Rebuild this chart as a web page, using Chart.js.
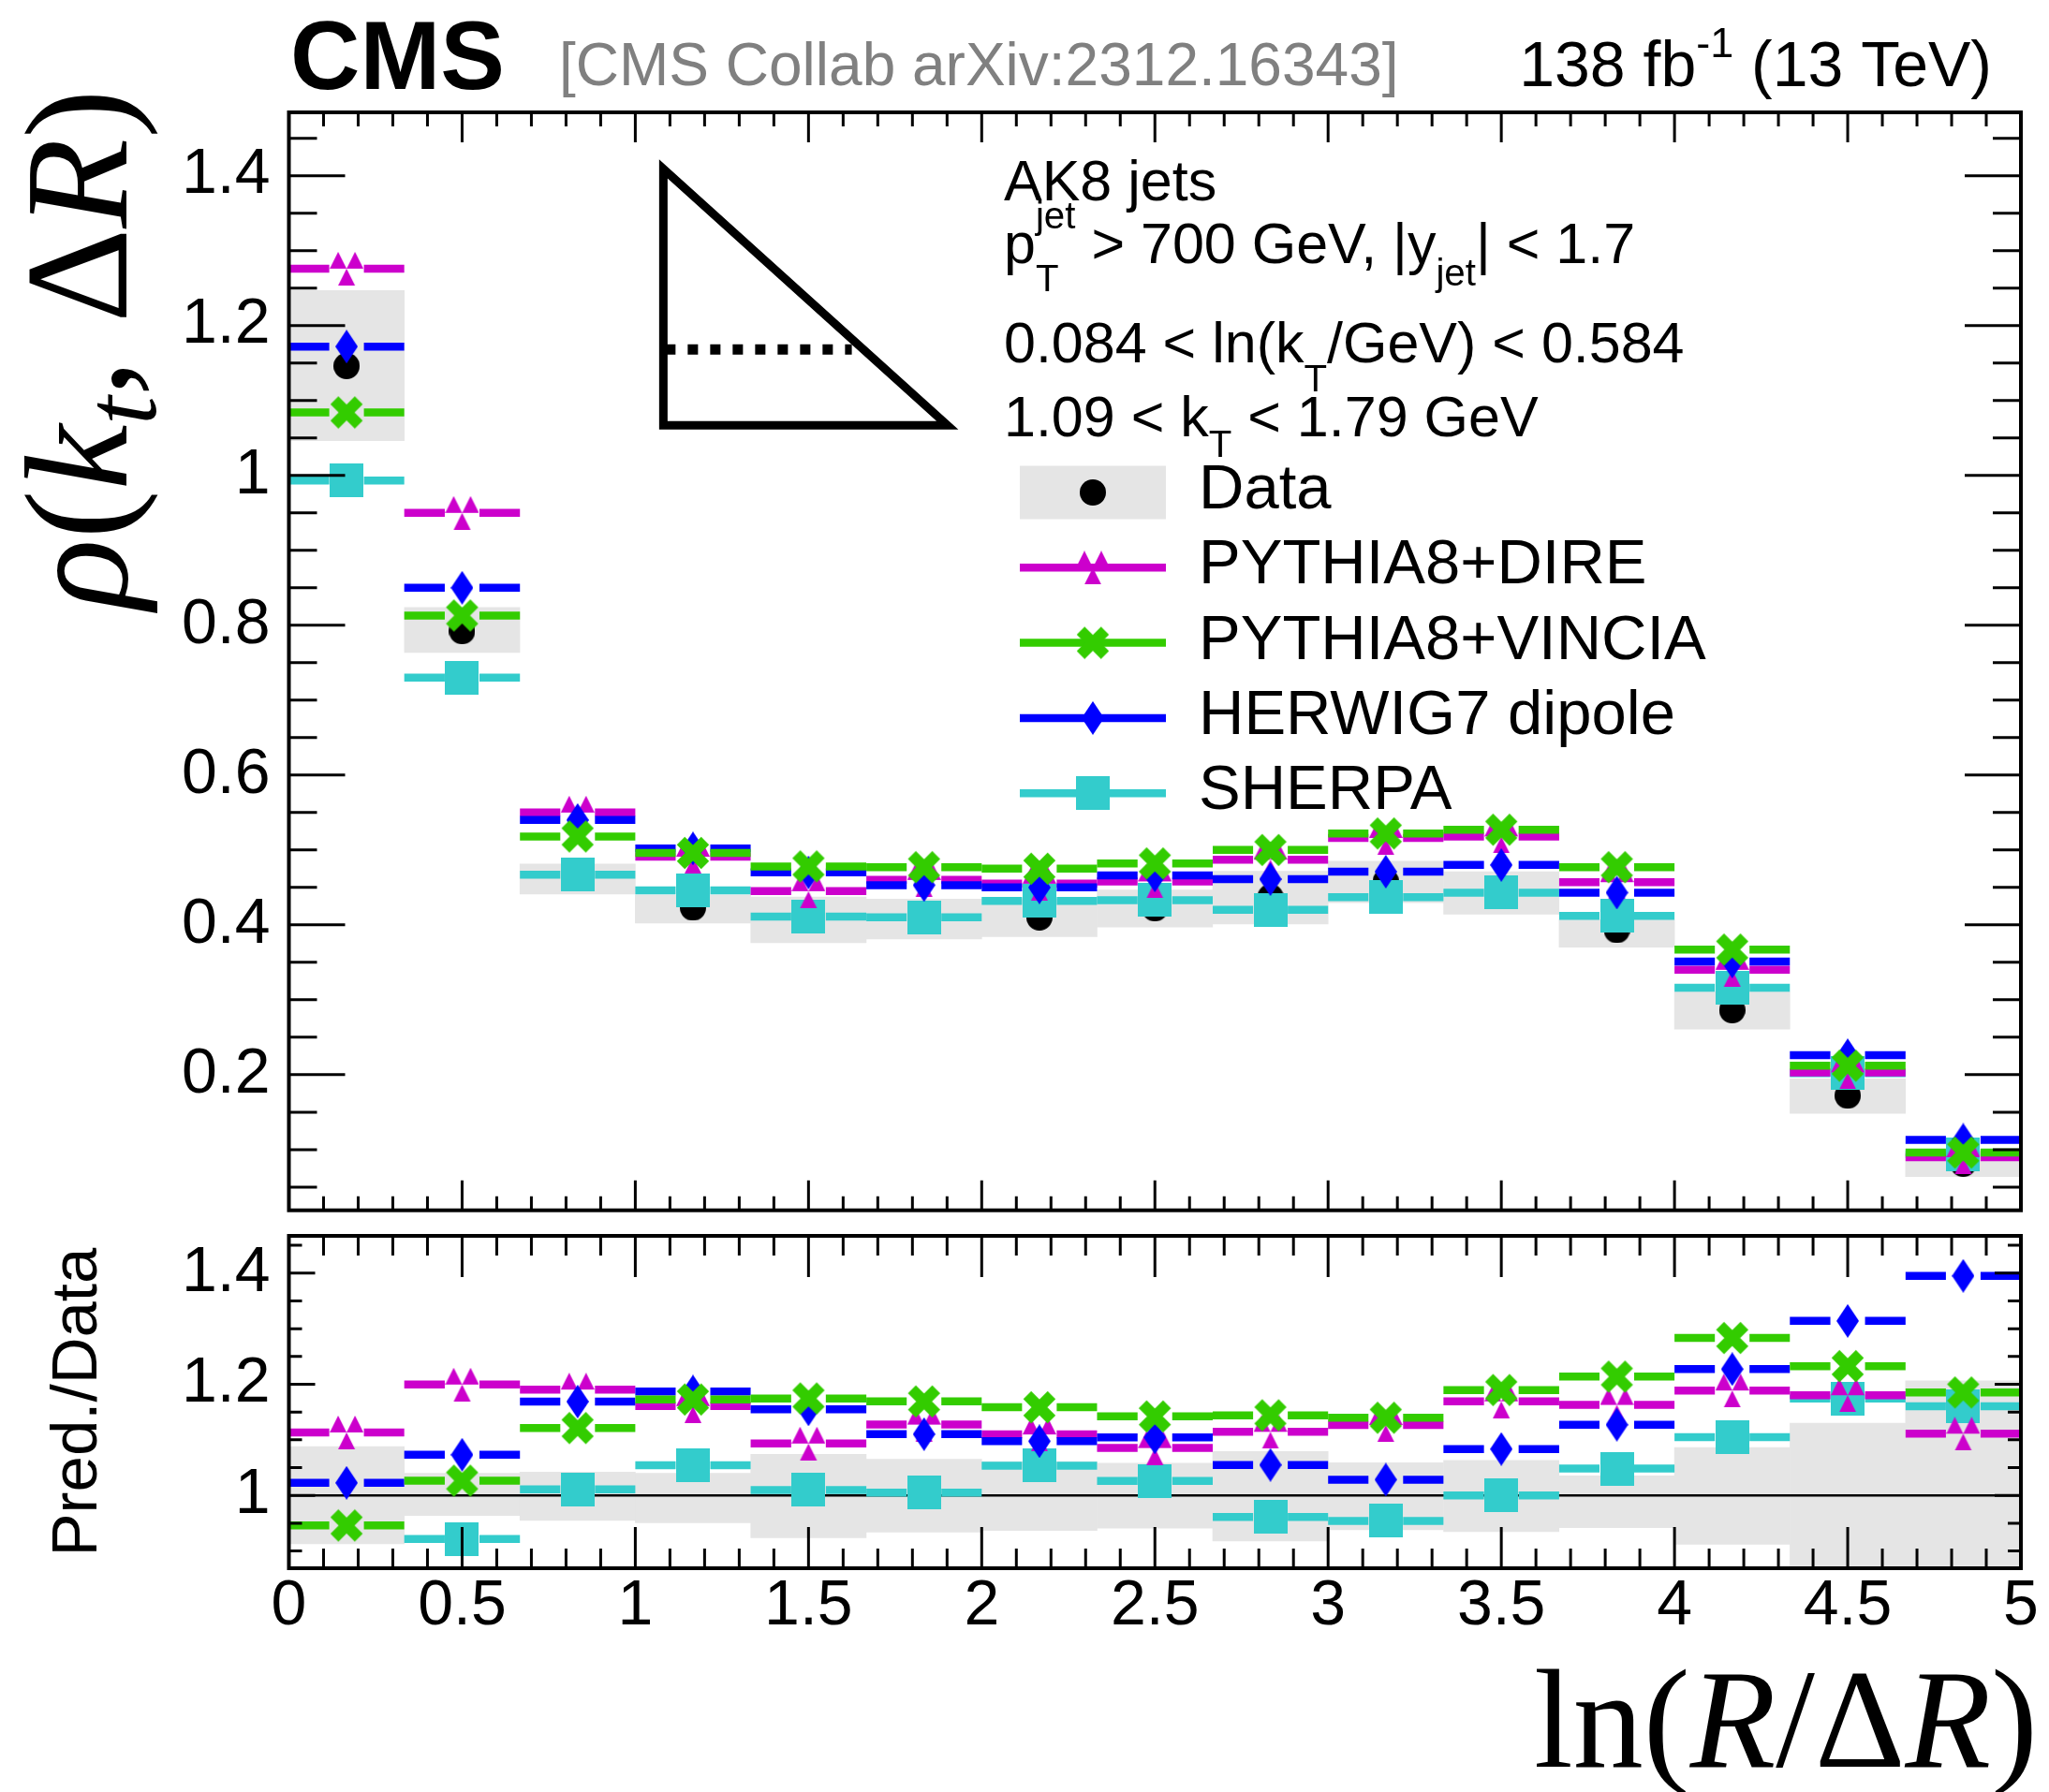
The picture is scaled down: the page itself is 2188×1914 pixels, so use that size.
<!DOCTYPE html>
<html>
<head>
<meta charset="utf-8">
<script src="https://cdn.jsdelivr.net/npm/chart.js@4.4.1/dist/chart.umd.min.js"></script>
<style>
  html, body { margin:0; padding:0; background:#fff; }
  #wrap { position:relative; width:2188px; height:1914px; overflow:hidden; }
  canvas { position:absolute; left:0; }
  #mainCanvas { top:0; }
  #ratioCanvas { top:1306px; }
</style>
</head>
<body>
<div id="wrap">
  <canvas id="mainCanvas" width="2188" height="1306"></canvas>
  <canvas id="ratioCanvas" width="2188" height="608"></canvas>
</div>
<script>
// ---------- DATA ----------
const binLo = [0, 0.333, 0.667, 1, 1.333, 1.667, 2, 2.333, 2.667, 3, 3.333, 3.667, 4, 4.333, 4.667];
const binHi = [0.333, 0.667, 1, 1.333, 1.667, 2, 2.333, 2.667, 3, 3.333, 3.667, 4, 4.333, 4.667, 5];

const dataVals   = [1.146, 0.792, 0.462, 0.423, 0.407, 0.408, 0.410, 0.422, 0.437, 0.458, 0.443, 0.393, 0.286, 0.172, 0.081];
const dataUncUp  = [1.088, 1.040, 1.042, 1.040, 1.074, 1.065, 1.061, 1.058, 1.079, 1.059, 1.063, 1.035, 1.086, 1.130, 1.206];
const dataUncDn  = [0.913, 0.964, 0.955, 0.951, 0.924, 0.934, 0.937, 0.941, 0.918, 0.938, 0.935, 0.942, 0.912, 0.862, 0.790];

const direVals   = [1.276, 0.950, 0.550, 0.491, 0.445, 0.460, 0.455, 0.458, 0.487, 0.516, 0.518, 0.457, 0.340, 0.203, 0.090];
const vinciaVals = [1.084, 0.813, 0.518, 0.496, 0.478, 0.477, 0.475, 0.482, 0.500, 0.522, 0.527, 0.477, 0.367, 0.212, 0.096];
const herwigVals = [1.172, 0.850, 0.540, 0.502, 0.470, 0.453, 0.450, 0.466, 0.461, 0.471, 0.480, 0.443, 0.351, 0.226, 0.113];
const sherpaVals = [0.993, 0.730, 0.467, 0.446, 0.411, 0.410, 0.432, 0.433, 0.420, 0.437, 0.443, 0.412, 0.316, 0.202, 0.094];

const xTickVals     = [0, 0.5, 1, 1.5, 2, 2.5, 3, 3.5, 4, 4.5, 5];
const yTickVals     = [0.2, 0.4, 0.6, 0.8, 1, 1.2, 1.4];
const ratioTickVals = [1, 1.2, 1.4];

// ---------- STYLE ----------
const SANS = '"Liberation Sans", Arial, Helvetica, sans-serif';
const SERIF = '"Liberation Serif", "Times New Roman", serif';
const BAND = '#e5e5e5';
const LINE_W = 8.5, GAP = 18.5;
const TOP_MIN = 0.019, TOP_MAX = 1.4846, RAT_MIN = 0.869, RAT_MAX = 1.467;

Chart.defaults.font.family = SANS;

function makeMarker(kind, color){
  const c = document.createElement('canvas');
  let w = 36, h = 36;
  if(kind === 'diamond'){ w = 24; h = 36; }
  if(kind === 'circle'){ w = 28; h = 28; }
  c.width = w; c.height = h;
  const g = c.getContext('2d');
  g.fillStyle = color; g.strokeStyle = color;
  g.beginPath();
  if(kind === 'circle'){ g.arc(w/2, h/2, w/2, 0, Math.PI*2); g.fill(); }
  else if(kind === 'square'){ g.fillRect(0, 0, w, h); }
  else if(kind === 'diamond'){ g.moveTo(w/2,0); g.lineTo(w,h/2); g.lineTo(w/2,h); g.lineTo(0,h/2); g.closePath(); g.fill(); }
  else if(kind === 'tri3'){
    const s = w/4;
    g.moveTo(0,2*s); g.lineTo(s,0); g.lineTo(2*s,2*s); g.closePath();
    g.moveTo(2*s,2*s); g.lineTo(3*s,0); g.lineTo(4*s,2*s); g.closePath();
    g.moveTo(s,4*s); g.lineTo(2*s,2*s); g.lineTo(3*s,4*s); g.closePath();
    g.fill();
  }
  else if(kind === 'cross'){
    g.lineWidth = 12; g.lineCap = 'butt';
    g.moveTo(5,5); g.lineTo(w-5,h-5); g.moveTo(w-5,5); g.lineTo(5,h-5); g.stroke();
  }
  return c;
}

const dataMarker = makeMarker('circle', '#000');
// legend order; "order" = draw order (higher first)
const models = [
  {name:'PYTHIA8+DIRE',   vals:direVals,   color:'#cc00cc', img:makeMarker('tri3','#cc00cc'),    order:6},
  {name:'PYTHIA8+VINCIA', vals:vinciaVals, color:'#33cc00', img:makeMarker('cross','#33cc00'),   order:4},
  {name:'HERWIG7 dipole', vals:herwigVals, color:'#0000ff', img:makeMarker('diamond','#0000ff'), order:5},
  {name:'SHERPA',         vals:sherpaVals, color:'#33cccc', img:makeMarker('square','#33cccc'),  order:7}
];

const centers = binLo.map((lo, i) => (lo + binHi[i]) / 2);
const fmt = v => String(Math.round(v*10)/10);

// ---------- DATASETS ----------
function buildDatasets(ratio){
  const sets = [];
  sets.push({
    type:'bar', order:10, backgroundColor:BAND, borderWidth:0, barPercentage:1, categoryPercentage:1,
    data: centers.map((c,i) => ({x:c, y: ratio ? [dataUncDn[i], dataUncUp[i]]
                                               : [dataVals[i]*dataUncDn[i], dataVals[i]*dataUncUp[i]]}))
  });
  if(ratio){
    sets.push({type:'line', order:9, data:[{x:0,y:1},{x:5,y:1}], borderColor:'#000', borderWidth:2.5, pointRadius:0});
  } else {
    sets.push({type:'scatter', order:8, data: centers.map((c,i)=>({x:c, y:dataVals[i]})), pointStyle:dataMarker, pointRadius:14});
  }
  models.forEach(m => {
    const pts = centers.map((c,i) => {
      let v = m.vals[i];
      if(ratio){ v = v / dataVals[i]; if(v < RAT_MIN || v > RAT_MAX) v = null; }
      return {x:c, y:v};
    });
    sets.push({type:'scatter', order:m.order, data:pts, pointStyle:m.img, pointRadius:18, errColor:m.color, clip:0});
  });
  return sets;
}

// ---------- DRAW HELPERS ----------
function drawErrBars(chart, index){
  const ds = chart.data.datasets[index];
  if(!ds || !ds.errColor) return;
  const {ctx, chartArea:a, scales:{x, y}} = chart;
  ctx.save();
  ctx.beginPath(); ctx.rect(a.left, a.top, a.right-a.left, a.bottom-a.top); ctx.clip();
  ctx.strokeStyle = ds.errColor; ctx.lineWidth = LINE_W; ctx.lineCap = 'butt';
  ds.data.forEach((p, i) => {
    if(p.y == null) return;
    const py = y.getPixelForValue(p.y), px = x.getPixelForValue(p.x);
    ctx.beginPath();
    ctx.moveTo(x.getPixelForValue(binLo[i]), py); ctx.lineTo(px - GAP, py);
    ctx.moveTo(px + GAP, py); ctx.lineTo(x.getPixelForValue(binHi[i]), py);
    ctx.stroke();
  });
  ctx.restore();
}

function drawFrame(chart, t){
  const {ctx, chartArea:a, scales:{x, y}} = chart;
  ctx.save();
  ctx.strokeStyle = '#000'; ctx.lineWidth = 3;
  ctx.beginPath();
  for(let i = 0; i <= 50; i++){
    const px = x.getPixelForValue(i/10);
    const len = i % 5 === 0 ? t.xMaj : t.xMin;
    ctx.moveTo(px, a.bottom); ctx.lineTo(px, a.bottom - len);
    ctx.moveTo(px, a.top); ctx.lineTo(px, a.top + len);
  }
  for(let k = Math.ceil(y.min*20); k <= Math.floor(y.max*20); k++){
    const py = y.getPixelForValue(k/20);
    const len = k % 4 === 0 ? t.yMaj : t.yMin;
    ctx.moveTo(a.left, py); ctx.lineTo(a.left + len, py);
    ctx.moveTo(a.right, py); ctx.lineTo(a.right - len, py);
  }
  ctx.stroke();
  ctx.lineWidth = 4;
  ctx.strokeRect(a.left, a.top, a.right-a.left, a.bottom-a.top);
  ctx.restore();
}

// simple latex-like text: strings, or {sup, sub, supDy, subDy}
function drawRich(ctx, x, y, parts, size){
  parts.forEach(p => {
    if(typeof p === 'string'){
      ctx.font = `${size}px ${SANS}`; ctx.fillText(p, x, y); x += ctx.measureText(p).width;
    } else {
      ctx.font = `${size*0.66}px ${SANS}`;
      let w = 0;
      if(p.sup){ ctx.fillText(p.sup, x, y - p.supDy); w = Math.max(w, ctx.measureText(p.sup).width); }
      if(p.sub){ ctx.fillText(p.sub, x, y + p.subDy); w = Math.max(w, ctx.measureText(p.sub).width); }
      x += w;
    }
  });
  return x;
}

// serif math title: [{t, it, sub}]
function mathWidth(ctx, parts, size){
  let w = 0;
  parts.forEach(p => { ctx.font = `${p.it?'italic ':''}${p.sub?size*0.7:size}px ${SERIF}`; w += ctx.measureText(p.t).width; });
  return w;
}
function drawMath(ctx, x, y, parts, size){
  parts.forEach(p => {
    ctx.font = `${p.it?'italic ':''}${p.sub?size*0.7:size}px ${SERIF}`;
    ctx.fillText(p.t, x, y + (p.sub ? size*0.2 : 0));
    x += ctx.measureText(p.t).width;
  });
}

function drawTriangle(chart){
  const {ctx, scales:{x, y}} = chart;
  const xl = x.getPixelForValue(1.081), xr = x.getPixelForValue(1.901);
  const yt = y.getPixelForValue(1.409), yb = y.getPixelForValue(1.067);
  ctx.save();
  ctx.strokeStyle = '#000'; ctx.lineWidth = 9; ctx.lineJoin = 'miter';
  ctx.beginPath(); ctx.moveTo(xl, yt); ctx.lineTo(xl, yb); ctx.lineTo(xr, yb); ctx.closePath(); ctx.stroke();
  const yd = y.getPixelForValue(1.168);
  ctx.lineWidth = 11; ctx.setLineDash([11, 13]);
  ctx.beginPath(); ctx.moveTo(xl + 2, yd); ctx.lineTo(x.getPixelForValue(1.625), yd); ctx.stroke();
  ctx.restore();
}

function drawLegend(ctx){
  const x0 = 1089, x1 = 1245, xm = 1167, tx = 1280, y0 = 526, dy = 80.3;
  ctx.save();
  ctx.fillStyle = BAND; ctx.fillRect(x0, y0 - 28.5, x1 - x0, 57);
  ctx.drawImage(dataMarker, xm - 14, y0 - 14);
  ctx.fillStyle = '#000'; ctx.font = `67px ${SANS}`; ctx.textBaseline = 'alphabetic';
  ctx.fillText('Data', tx, y0 + 17);
  models.forEach((m, i) => {
    const yy = y0 + dy*(i+1);
    ctx.strokeStyle = m.color; ctx.lineWidth = LINE_W;
    ctx.beginPath(); ctx.moveTo(x0, yy); ctx.lineTo(x1, yy); ctx.stroke();
    ctx.drawImage(m.img, xm - m.img.width/2, yy - m.img.height/2);
    ctx.fillStyle = '#000'; ctx.fillText(m.name, tx, yy + 17);
  });
  ctx.restore();
}

// ---------- PLUGINS ----------
const mainDeco = {
  id:'mainDeco',
  beforeDatasetDraw(chart, args){ drawErrBars(chart, args.index); },
  afterDraw(chart){
    const ctx = chart.ctx;
    drawFrame(chart, {xMaj:32, xMin:15, yMaj:60, yMin:30});
    drawTriangle(chart);
    drawLegend(ctx);
    ctx.save();
    ctx.textBaseline = 'alphabetic'; ctx.textAlign = 'left'; ctx.fillStyle = '#000';
    // header
    ctx.font = `bold 103px ${SANS}`; ctx.fillText('CMS', 310, 95);
    ctx.fillStyle = '#808080'; ctx.font = `64px ${SANS}`;
    ctx.fillText('[CMS Collab arXiv:2312.16343]', 597, 91);
    ctx.fillStyle = '#000';
    const lumi = ['138 fb', {sup:'-1', supDy:31}, ' (13 TeV)'];
    ctx.font = `68px ${SANS}`;
    const wA = ctx.measureText('138 fb').width + ctx.measureText(' (13 TeV)').width;
    ctx.font = `${68*0.66}px ${SANS}`;
    const wB = ctx.measureText('-1').width;
    drawRich(ctx, 2127 - wA - wB, 92, lumi, 68);
    // info block
    ctx.font = `61px ${SANS}`; ctx.fillText('AK8 jets', 1072, 214);
    drawRich(ctx, 1072, 281, ['p', {sup:'jet', supDy:37, sub:'T', subDy:30}, ' > 700 GeV, |y', {sub:'jet', subDy:24}, '| < 1.7'], 61);
    drawRich(ctx, 1072, 387, ['0.084 < ln(k', {sub:'T', subDy:31}, '/GeV) < 0.584'], 61);
    drawRich(ctx, 1072, 466, ['1.09 < k', {sub:'T', subDy:22}, ' < 1.79 GeV'], 61);
    // y title
    const yt = [{t:'\u03C1', it:true}, {t:'('}, {t:'k', it:true}, {t:'t', it:true, sub:true}, {t:','}, {t:' '}, {t:'\u0394'}, {t:'R', it:true}, {t:')'}];
    ctx.translate(135, 651); ctx.rotate(-Math.PI/2);
    drawMath(ctx, 0, 0, yt, 157);
    ctx.restore();
  }
};

const ratioDeco = {
  id:'ratioDeco',
  beforeDatasetDraw(chart, args){ drawErrBars(chart, args.index); },
  afterDraw(chart){
    const ctx = chart.ctx;
    drawFrame(chart, {xMaj:44, xMin:21, yMaj:28, yMin:14});
    ctx.save();
    ctx.fillStyle = '#000'; ctx.textBaseline = 'alphabetic';
    const a = chart.chartArea;
    ctx.translate(103, (a.top + a.bottom)/2); ctx.rotate(-Math.PI/2);
    ctx.textAlign = 'center'; ctx.font = `69px ${SANS}`;
    ctx.fillText('Pred./Data', 0, 0);
    ctx.restore();
    ctx.save();
    ctx.fillStyle = '#000'; ctx.textBaseline = 'alphabetic'; ctx.textAlign = 'left';
    const xt = [{t:'ln'}, {t:'('}, {t:'R', it:true}, {t:'/'}, {t:'\u0394'}, {t:'R', it:true}, {t:')'}];
    const w = mathWidth(ctx, xt, 150);
    drawMath(ctx, 2176 - w, 581, xt, 150);
    ctx.restore();
  }
};

// ---------- CHARTS ----------
function xScale(show){
  return {
    type:'linear', display:show, min:0, max:5, offset:false,
    afterBuildTicks: s => { s.ticks = xTickVals.map(v => ({value:v})); },
    afterFit: s => { if(show){ s.height = 239; } s.paddingLeft = 0; s.paddingRight = 0; },
    grid:{display:false, drawTicks:false, offset:false}, border:{display:false},
    ticks:{font:{family:SANS, size:68}, color:'#000', padding:0, autoSkip:false, maxRotation:0, minRotation:0, callback: v => fmt(v)}
  };
}
function yScale(min, max, ticks){
  return {
    type:'linear', min:min, max:max, beginAtZero:false,
    afterBuildTicks: s => { s.ticks = ticks.map(v => ({value:v})); },
    afterFit: s => { s.width = 308.5; s.paddingTop = 0; s.paddingBottom = 0; },
    grid:{display:false, drawTicks:false}, border:{display:false},
    ticks:{font:{family:SANS, size:68}, color:'#000', padding:20, callback: v => fmt(v)}
  };
}

new Chart(document.getElementById('mainCanvas'), {
  type:'scatter',
  data:{datasets: buildDatasets(false)},
  options:{
    responsive:false, animation:false, devicePixelRatio:1,
    layout:{autoPadding:false, padding:{left:0, right:30, top:120, bottom:13.3}},
    plugins:{legend:{display:false}, tooltip:{enabled:false}},
    scales:{ x: xScale(false), y: yScale(TOP_MIN, TOP_MAX, yTickVals) }
  },
  plugins:[mainDeco]
});

new Chart(document.getElementById('ratioCanvas'), {
  type:'scatter',
  data:{datasets: buildDatasets(true)},
  options:{
    responsive:false, animation:false, devicePixelRatio:1,
    layout:{autoPadding:false, padding:{left:0, right:30, top:14, bottom:0}},
    plugins:{legend:{display:false}, tooltip:{enabled:false}},
    scales:{ x: xScale(true), y: yScale(RAT_MIN, RAT_MAX, ratioTickVals) }
  },
  plugins:[ratioDeco]
});
</script>
</body>
</html>
